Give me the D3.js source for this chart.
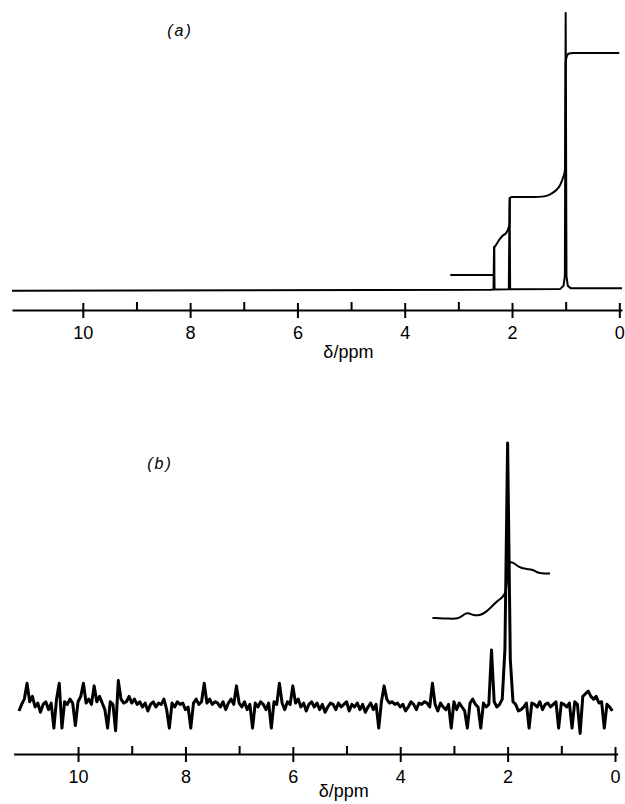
<!DOCTYPE html>
<html>
<head>
<meta charset="utf-8">
<script src="https://cdn.jsdelivr.net/npm/d3@7"></script>
<style>
  body { margin: 0; background: #fff; }
  .tick text { font-family: "Liberation Sans", Arial, sans-serif; font-size: 18px; }
</style>
</head>
<body>
<div id="nmr"></div>
<script>
// 1: DATA
const majorTicks = [10, 8, 6, 4, 2, 0];
const minorTicks = [9, 7, 5, 3, 1];
const axisTitle = "δ/ppm";
const panelLabels = ["(a)", "(b)"];

// spectrum (a): [ppm, intensity]
const spectrumA = [
  [11.32, -0.3], [2.40, 0.1], [2.345, 0.2], [2.335, 15.5], [2.325, 0.2],
  [2.06, 0.3], [2.045, 33.2], [2.035, 0.3], [1.10, 0.4], [1.04, 1.5],
  [1.015, 5], [1.0, 100], [0.985, 5], [0.96, 1.5], [0.90, 0.6], [-0.05, 0.6]
];

// integral trace (a)
const integralA = [
  [3.15, 5.4], [2.345, 5.4], [2.335, 6], [2.33, 15.2], [2.30, 16.2], [2.25, 17.8],
  [2.18, 19.5], [2.10, 20.8], [2.065, 22.5], [2.045, 24], [2.04, 33.2], [2.0, 33.6],
  [1.6, 33.6], [1.4, 33.8], [1.28, 34.6], [1.18, 36], [1.10, 38], [1.05, 40.5],
  [1.015, 43], [1.005, 60], [1.0, 82], [0.98, 84.3], [0.94, 85.4], [0.85, 85.6], [0.0, 85.6]
];

// spectrum (b): intensities on a 0.05 ppm grid from 11.10 ppm downwards
const spectrumBStart = 11.1;
const spectrumBStep = 0.05;
const spectrumB = [
  -1.5, 1, 3, 9, 2, 4, 0, 1.5, -2, 1,
  2, -1, 1.5, -8, 3, 9, -8, 2, 1, 3,
  1.5, -7, 2, 4, 9, 1.5, 3, 1, 8, 2,
  4, 1.5, -1, -8, 2, 1, -9, 10, 3, 1.5,
  2, 4, 1.5, 3, 1, 2, 0, 1.5, -1.5, 1,
  2, 0, 1.5, 1, 3, -1, -8, 1.5, 0, 2,
  1, 1.5, -1, 0, -8, 1.5, 3, 1, 2, 9,
  1.5, 3, 1, 2, 1.5, 0, 2, -1, 1.5, 3,
  1, 8, 1.5, 0, 2, -1, 1, -8, 1.5, 0,
  2, 1, -1, 1.5, -8, 2, 1, 9, 1.5, -1,
  2, 1, 8, 1.5, 3, 0, 1.5, -1.5, 1, 2,
  0, 1.5, -1, 1, -2, 0, 1.5, 1, -1, 1.5,
  0, 1, 2, -1.5, 1, 0, 1.5, -1, 1, -2,
  0, 1.5, -1, 1, -8, 2, 8, 3, 1.5, 2,
  1, 1.5, 0, 1, -1.5, 0, 2, 1, -1, 1.5,
  1, 2, 1.5, 0, 9, 1, -1.5, 1.5, 0, -1,
  1, -8, 2, -1, 1.5, 0, -1.5, -8, 1.5, 3,
  1, 0, -8, 1.5, 0, 1, 21.6, 2, 0, 1,
  3, 22, 100, 18, 2, 1, -1.5, -1, 0, 1.5,
  -8, 1.5, 1, 0, 2, -1, 1, 1.5, 0, 1,
  2, -8, 1.5, 1, 0, 1.5, -8, 2, 1, -10,
  4, 5, 6, 4, 3, 4, 1.5, 2, -8, 1,
  0, -1.5
];

// integral trace (b)
const integralB = [
  [3.40, 33.7], [3.1, 33.5], [2.92, 33.3], [2.82, 35.0], [2.74, 35.8], [2.64, 34.6],
  [2.50, 34.8], [2.40, 36.0], [2.30, 38.0], [2.20, 40.0], [2.10, 41.5], [2.04, 43.0],
  [2.01, 47], [2.0, 53], [1.97, 54.8], [1.90, 55.0], [1.80, 53.0], [1.66, 52.2],
  [1.54, 52.2], [1.46, 51.0], [1.38, 50.6], [1.21, 50.6]
];

// 2: SVG
const W = 625, H = 804;
const svg = d3.select("#nmr").append("svg")
  .attr("width", W)
  .attr("height", H);

const line = (x, y) => d3.line().x(d => x(d[0])).y(d => y(d[1]));

function drawAxis(x, axisY, titleY) {
  const g = svg.append("g").attr("transform", `translate(0,${axisY})`);
  const ax = g.call(d3.axisBottom(x).tickValues(majorTicks).tickSize(8).tickSizeOuter(0).tickPadding(8));
  ax.select(".domain").attr("stroke", "#000").attr("stroke-width", 2);
  ax.selectAll(".tick line").attr("y1", -7).attr("stroke-width", 2);

  svg.append("g")
    .attr("transform", `translate(0,${axisY})`)
    .call(d3.axisTop(x).tickValues(minorTicks).tickSize(8).tickFormat(""))
    .call(g => g.select(".domain").remove())
    .selectAll(".tick line").attr("stroke-width", 2);

  svg.append("text")
    .attr("x", x(5.05))
    .attr("y", titleY)
    .attr("text-anchor", "middle")
    .style("font-family", "Liberation Sans, Arial, sans-serif")
    .style("font-size", "18px")
    .text(axisTitle);
}

function drawPath(data, gen, w) {
  svg.append("path")
    .datum(data)
    .attr("fill", "none")
    .attr("stroke", "#000")
    .attr("stroke-width", w || 2)
    .attr("stroke-linejoin", "round")
    .attr("d", gen);
}

// 3: PANEL (a)
const xA = d3.scaleLinear().domain([11.32, -0.05]).range([12, 622]);
const yA = d3.scaleLinear().domain([0, 100]).range([290, 13]);

drawPath(spectrumA, line(xA, yA));
drawPath(integralA, line(xA, yA).curve(d3.curveMonotoneX));
drawAxis(xA, 310, 358);

svg.append("text")
  .attr("x", 180).attr("y", 36)
  .attr("text-anchor", "middle")
  .style("font-family", "Liberation Sans, Arial, sans-serif")
  .style("font-style", "italic")
  .style("font-size", "16px")
  .style("letter-spacing", "2px")
  .text(panelLabels[0]);

// 4: PANEL (b)
const xB = d3.scaleLinear().domain([11.2, -0.05]).range([13.6, 617.7]);
const yB = d3.scaleLinear().domain([0, 100]).range([707, 443]);

const spectrumBPoints = spectrumB.map((v, i) => [spectrumBStart - i * spectrumBStep, v]);
drawPath(spectrumBPoints, line(xB, yB), 3);
drawPath(integralB, line(xB, yB).curve(d3.curveBasis));
drawAxis(xB, 754, 797);

svg.append("text")
  .attr("x", 160).attr("y", 469)
  .attr("text-anchor", "middle")
  .style("font-family", "Liberation Sans, Arial, sans-serif")
  .style("font-style", "italic")
  .style("font-size", "16px")
  .style("letter-spacing", "2px")
  .text(panelLabels[1]);
</script>
</body>
</html>
